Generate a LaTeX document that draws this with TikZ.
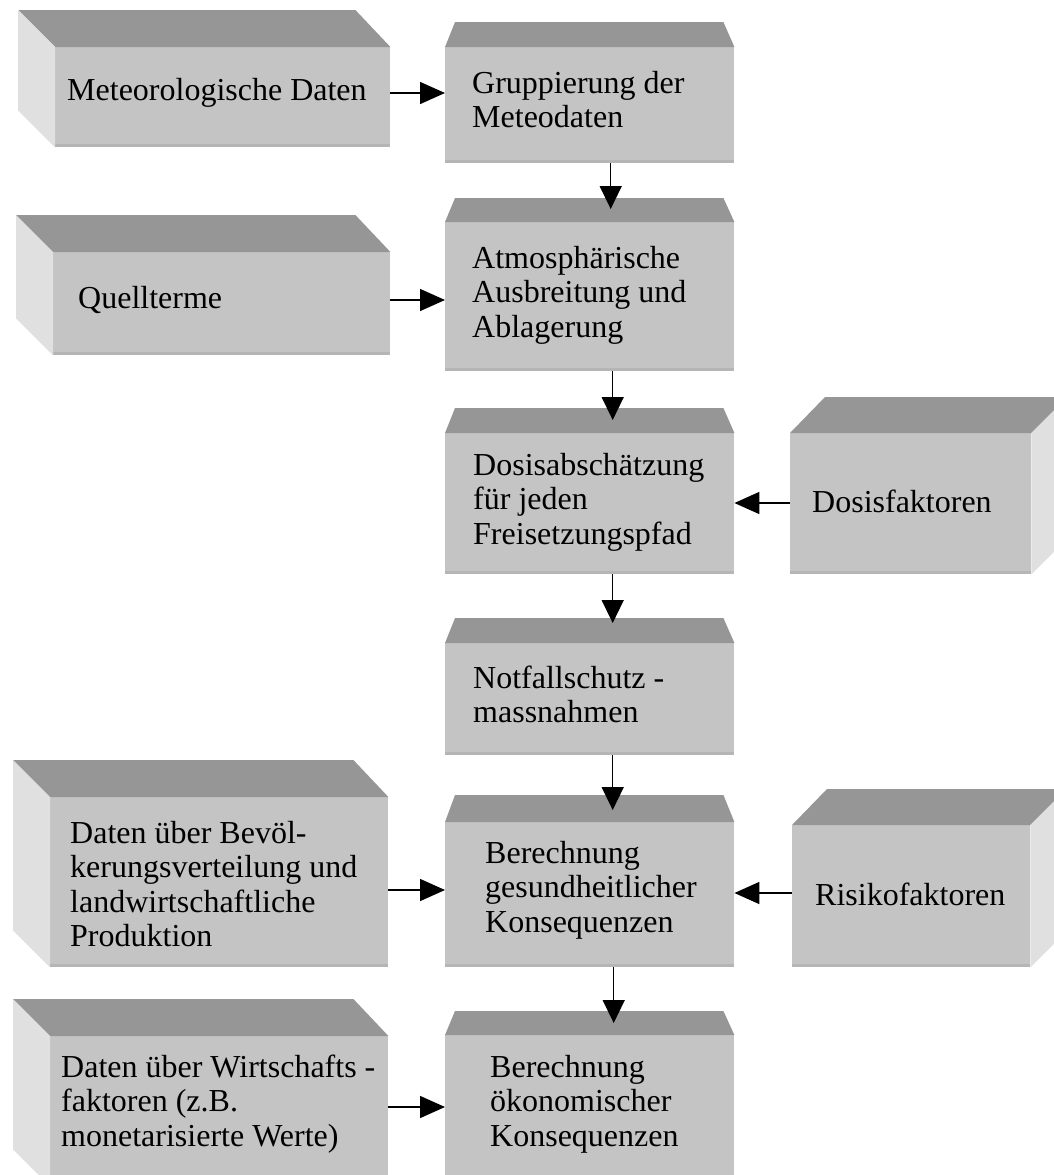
\documentclass[tikz,border=0pt]{standalone}
\usepackage{fontspec}
\setmainfont{Liberation Serif}
\usetikzlibrary{arrows.meta,calc}
\definecolor{frontc}{gray}{0.77}
\definecolor{topc}{gray}{0.59}
\definecolor{sidec}{gray}{0.88}
\definecolor{edgec}{gray}{0.71}
\newcommand{\boxtext}[1]{\begin{tabular}[t]{@{}l@{}}#1\end{tabular}}
\begin{document}
\begin{tikzpicture}[x=1pt,y=-1pt,
  face/.style={fill=frontc, inner sep=0pt, anchor=north west},
  lbl/.style={font=\fontsize{32}{34.5}\selectfont, inner sep=0pt, anchor=base west},
  arr/.style={line width=1.5pt, -{Triangle[length=23pt,width=22pt]}},
  harr/.style={line width=1.5pt, -{Triangle[length=25pt,width=22pt]}}]
\useasboundingbox (0,0) rectangle (1054,1175);
\clip (0,0) rectangle (1054,1175);
% front faces
\node[face, minimum width=335pt, minimum height=100pt] (met) at (55,47) {};
\node[face, minimum width=337pt, minimum height=103pt] (que) at (53,252) {};
\node[face, minimum width=338pt, minimum height=170pt] (bev) at (50,797) {};
\node[face, minimum width=338pt, minimum height=150pt] (wir) at (50,1036) {};
\node[face, minimum width=289pt, minimum height=116pt] (grp) at (445,47) {};
\node[face, minimum width=289pt, minimum height=149pt] (atm) at (445,222) {};
\node[face, minimum width=289pt, minimum height=141pt] (dos) at (445,433) {};
\node[face, minimum width=289pt, minimum height=112pt] (not) at (445,643) {};
\node[face, minimum width=289pt, minimum height=145pt] (ges) at (445,822) {};
\node[face, minimum width=289pt, minimum height=150pt] (oek) at (445,1035) {};
\node[face, minimum width=241pt, minimum height=141pt] (dfa) at (790,433) {};
\node[face, minimum width=238pt, minimum height=142pt] (rfa) at (792,825) {};
% bottom edges
\foreach \n in {met,que,bev,wir,grp,atm,dos,not,ges,oek,dfa,rfa}
  \fill[edgec] ([yshift=3pt]\n.south west) rectangle (\n.south east);
% left boxes: top and left side
\foreach \n in {met,que,bev,wir}{
  \fill[topc] (\n.north west) -- ++(-37,-37) -- ($(\n.north east)+(-35,-37)$) -- (\n.north east) -- cycle;
  \fill[sidec] (\n.north west) -- ++(-37,-37) -- ($(\n.south west)+(-37,-37)$) -- (\n.south west) -- cycle;
}
% right boxes: top and right side
\foreach \n in {dfa,rfa}{
  \fill[topc] (\n.north west) -- ++(35,-36) -- ($(\n.north east)+(36,-36)$) -- (\n.north east) -- cycle;
  \fill[sidec] (\n.north east) -- ++(36,-36) -- ($(\n.south east)+(36,-36)$) -- (\n.south east) -- cycle;
}
% middle boxes: top faces
\foreach \n/\d in {grp/25,atm/24,dos/25,not/25,ges/27,oek/24}
  \fill[topc] (\n.north west) -- ++(10,-\d) -- ($(\n.north east)+(-11,-\d)$) -- (\n.north east) -- cycle;
% texts
\node[lbl] (tmet) at (67,100) {\boxtext{Meteorologische Daten}};
\node[lbl] (tque) at (78,308) {\boxtext{Quellterme}};
\node[lbl] (tbev) at (70,843) {\boxtext{Daten über Bevöl-\\kerungsverteilung und\\landwirtschaftliche\\Produktion}};
\node[lbl] (twir) at (61,1077) {\boxtext{Daten über Wirtschafts -\\faktoren (z.B.\\monetarisierte Werte)}};
\node[lbl] (tgrp) at (472,93) {\boxtext{Gruppierung der\\Meteodaten}};
\node[lbl] (tatm) at (472,268) {\boxtext{Atmosphärische\\Ausbreitung und\\Ablagerung}};
\node[lbl] (tdos) at (473,475) {\boxtext{Dosisabschätzung\\für jeden\\Freisetzungspfad}};
\node[lbl] (tnot) at (473,688) {\boxtext{Notfallschutz -\\massnahmen}};
\node[lbl] (tges) at (485,863) {\boxtext{Berechnung\\gesundheitlicher\\Konsequenzen}};
\node[lbl] (toek) at (490,1077) {\boxtext{Berechnung\\ökonomischer\\Konsequenzen}};
\node[lbl] (tdfa) at (812,512) {\boxtext{Dosisfaktoren}};
\node[lbl] (trfa) at (815,905) {\boxtext{Risikofaktoren}};
% horizontal arrows
\draw[harr] (met.east |- 0,93) -- (grp.west |- 0,93);
\draw[harr] (que.east |- 0,300) -- (atm.west |- 0,300);
\draw[harr] (dfa.west |- 0,503) -- (dos.east |- 0,503);
\draw[harr] (bev.east |- 0,890) -- (ges.west |- 0,890);
\draw[harr] (rfa.west |- 0,893) -- (ges.east |- 0,893);
\draw[harr] (wir.east |- 0,1107) -- (oek.west |- 0,1107);
% vertical arrows
\draw[arr] ([xshift=21pt]grp.south) -- ([xshift=21pt,yshift=13pt]atm.north);
\draw[arr] ([xshift=23pt]atm.south) -- ([xshift=23pt,yshift=13pt]dos.north);
\draw[arr] ([xshift=23pt]dos.south) -- ([xshift=23pt,yshift=20pt]not.north);
\draw[arr] ([xshift=23pt]not.south) -- ([xshift=23pt,yshift=12pt]ges.north);
\draw[arr] ([xshift=24pt]ges.south) -- ([xshift=24pt,yshift=12pt]oek.north);
\end{tikzpicture}
\end{document}
